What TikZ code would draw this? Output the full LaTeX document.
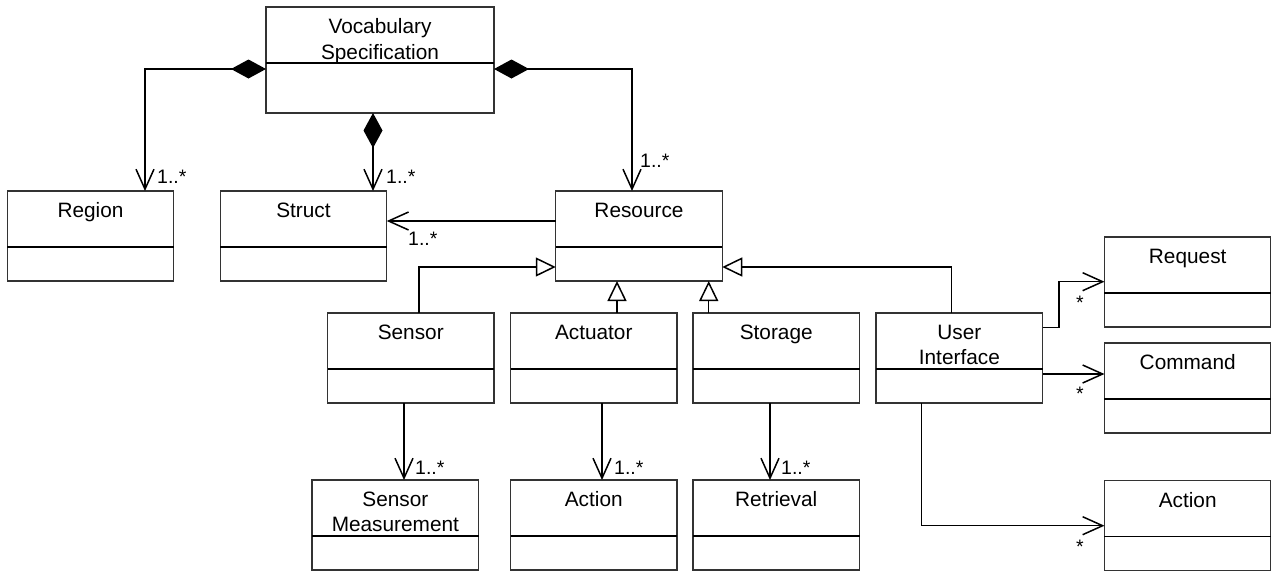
\documentclass[tikz,border=0pt]{standalone}
\usepackage{fontspec}
\setmainfont{Liberation Sans}
\usetikzlibrary{arrows.meta}
\newcommand\uclass[4][]{%
  \node[cls,#1] (#2) at (#3) {};
  \node[ttl] (#2-t) at ([yshift=-11.5pt]#2.north) {#4};
  \draw[divline] ([yshift=-56pt]#2.north west) -- ([yshift=-56pt]#2.north east);}
\begin{document}
\begin{tikzpicture}[x=1pt,y=-1pt,
  cls/.style={draw=black!80, line width=1.3pt, minimum width=166.5pt, minimum height=90pt, inner sep=0pt, outer sep=0pt},
  ttl/.style={anchor=north, inner sep=0pt, align=center, font=\fontsize{20.8}{25.7}\selectfont},
  divline/.style={line width=1.8pt},
  conn/.style={line width=1.5pt},
  assoc/.style={conn, -{Straight Barb[length=20pt,width=18pt]}},
  compo/.style={conn, {Diamond[length=35pt,width=19pt]}-{Straight Barb[length=20pt,width=18pt]}},
  gen/.style={conn, -{Triangle[open,length=20pt,width=19pt]}},
  mult/.style={font=\fontsize{19.5}{22}\selectfont, inner sep=0pt, anchor=base west},
]
\useasboundingbox (0,0) rectangle (1271,571);

% classes
\uclass[minimum width=228pt, minimum height=106pt]{voc}{380,60}{Vocabulary\\Specification}
\uclass{reg}{90.5,236}{Region}
\uclass{str}{303.5,236}{Struct}
\uclass{res}{639,236}{Resource}
\uclass{sen}{410.75,358}{Sensor}
\uclass{act}{593.75,358}{Actuator}
\uclass{sto}{776.25,358}{Storage}
\uclass{ui}{959.35,358}{User\\Interface}
\uclass{sm}{395.35,525}{Sensor\\Measurement}
\uclass{act2}{593.75,525}{Action}
\uclass{ret}{776.25,525}{Retrieval}
\uclass{req}{1187.7,282}{Request}
\uclass{cmd}{1187.7,388}{Command}
\uclass{act3}{1187.7,525.5}{Action}

% composition
\coordinate (c1) at (145,69);
\draw[compo] (voc.west |- c1) -- (c1) -- (reg.north -| c1);
\coordinate (c2) at (373,0);
\draw[compo] (voc.south -| c2) -- (str.north -| c2);
\coordinate (c3) at (632,69);
\draw[compo] (voc.east |- c3) -- (c3) -- (res.north -| c3);

% association resource -> struct
\coordinate (c4) at (0,221);
\draw[assoc] (res.west |- c4) -- (str.east |- c4);

% generalizations
\coordinate (g1) at (419,267);
\draw[gen] (sen.north -| g1) -- (g1) -- (res.west |- g1);
\coordinate (g2) at (617,0);
\draw[gen] (act.north -| g2) -- (res.south -| g2);
\coordinate (g3) at (708.7,0);
\draw[gen] (sto.north -| g3) -- (res.south -| g3);
\coordinate (g4) at (951.7,267);
\draw[gen] (ui.north -| g4) -- (g4) -- (res.east |- g4);

% lower associations
\coordinate (a1) at (404,0);
\draw[assoc] (sen.south -| a1) -- (sm.north -| a1);
\coordinate (a2) at (602,0);
\draw[assoc] (act.south -| a2) -- (act2.north -| a2);
\coordinate (a3) at (770,0);
\draw[assoc] (sto.south -| a3) -- (ret.north -| a3);

% user interface associations
\coordinate (u1) at (1059,327.7);
\coordinate (u2) at (1059,281.7);
\draw[assoc] (ui.east |- u1) -- (u1) -- (u2) -- (req.west |- u2);
\coordinate (u3) at (0,374);
\draw[assoc] (ui.east |- u3) -- (cmd.west |- u3);
\coordinate (u4) at (921.7,525.7);
\draw[assoc] (ui.south -| u4) -- (u4) -- (act3.west |- u4);

% multiplicities
\node[mult] (m1) at (157,183) {1..*};
\node[mult] (m2) at (386,183) {1..*};
\node[mult] (m3) at (640,167) {1..*};
\node[mult] (m4) at (408,245) {1..*};
\node[mult] (m5) at (415,474) {1..*};
\node[mult] (m6) at (614,474) {1..*};
\node[mult] (m7) at (781,474) {1..*};
\node[mult, anchor=base] (s1) at (1080,309) {*};
\node[mult, anchor=base] (s2) at (1080,400) {*};
\node[mult, anchor=base] (s3) at (1080,553) {*};
\end{tikzpicture}
\end{document}
